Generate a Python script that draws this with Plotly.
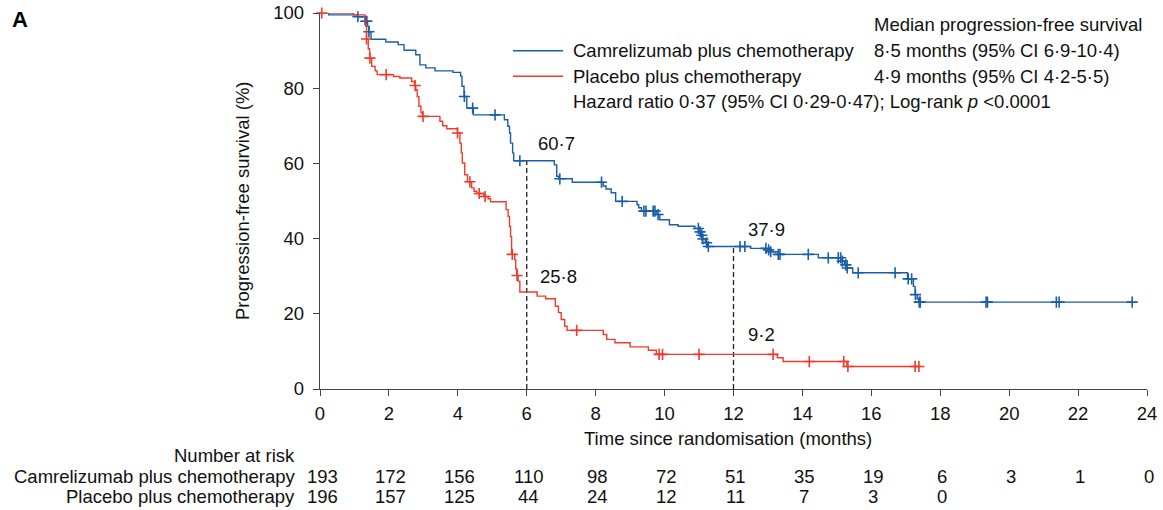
import numpy as np
import plotly.graph_objects as go

# ---------------- data ----------------
# Kaplan-Meier step points (time in months, survival in %) - Camrelizumab plus chemotherapy
cam_t = [0, 0.25, 1.1, 1.3, 1.38, 1.42, 1.48, 1.91, 2.27, 2.44, 2.78, 2.9, 3.07, 3.34, 3.86,
         4.08, 4.12, 4.18, 4.26, 4.45, 5.35, 5.45, 5.5, 5.53, 5.59, 5.62,
         6.8, 6.87, 6.93, 7.32, 8.22, 8.3, 8.45, 8.58, 9.2, 9.25, 9.33, 9.76, 9.86,
         10.14, 10.39, 10.88, 11.0, 11.05, 11.1, 11.18, 11.25, 12.5, 12.95, 13.05, 13.3,
         14.46, 15.15, 15.22, 15.3, 15.46, 17.05, 17.22, 17.27, 17.33, 17.38]
cam_s = [100, 99.5, 99.0, 97.8, 96.5, 95.0, 93.0, 92.3, 91.6, 90.1, 88.9, 86.2, 85.4, 84.6, 84.2,
         83.2, 80.5, 77.8, 74.7, 72.9, 71.6, 69.9, 68.1, 65.4, 62.8, 60.7,
         59.6, 56.6, 55.9, 55.0, 54.0, 53.2, 52.2, 49.9, 49.0, 48.2, 47.3, 46.4, 45.0,
         43.7, 43.3, 42.7, 41.8, 40.9, 39.9, 38.9, 37.9, 37.4, 37.0, 36.5, 35.8,
         34.9, 34.0, 33.0, 32.2, 30.9, 29.3, 27.3, 25.1, 24.0, 23.1]
cam_end = 23.57
cam_cens = [1.1, 1.33, 1.36, 1.42, 4.19, 4.43, 5.08, 5.8, 6.96, 8.17, 8.77, 9.4, 9.46, 9.67,
            9.72, 9.81, 10.98, 11.03, 11.08, 11.11, 11.22, 11.27, 12.19, 12.33, 12.94, 13.02,
            13.08, 13.3, 13.35, 14.17, 14.75, 15.04, 15.11, 15.16, 15.26, 15.3, 15.62, 16.69,
            17.07, 17.17, 17.28, 17.39, 17.42, 19.33, 19.37, 21.37, 21.45, 23.57]

# Placebo plus chemotherapy
pla_t = [0, 0.97, 1.3, 1.35, 1.4, 1.44, 1.5, 1.6, 1.66, 2.13, 2.32, 2.66, 2.74, 2.78, 2.82,
         2.87, 2.93, 2.97, 3.48, 3.56, 3.68, 3.99, 4.06, 4.1, 4.13, 4.2, 4.28, 4.4, 4.47,
         4.55, 4.75, 4.88, 4.95, 5.4, 5.46, 5.5, 5.53, 5.56, 5.65, 5.68, 5.71, 5.75, 5.8,
         6.3, 6.55, 6.83, 6.92, 7.0, 7.1, 7.17, 8.22, 8.32, 8.56, 9.0, 9.53, 9.76,
         13.27, 13.44, 15.29]
pla_s = [100, 99.5, 97.0, 93.1, 90.5, 88.0, 85.8, 84.6, 83.6, 83.1, 82.7, 81.8, 80.7, 79.6, 77.8,
         75.2, 73.5, 72.5, 71.2, 70.0, 69.2, 68.1, 65.4, 62.8, 60.1, 57.0, 55.1, 53.5, 52.6,
         52.0, 51.2, 50.6, 49.8, 47.7, 45.9, 43.2, 40.6, 35.8, 34.4, 32.0, 30.2, 28.7, 25.8,
         24.7, 24.0, 22.0, 20.3, 18.5, 16.7, 15.6, 14.5, 13.2, 12.3, 11.2, 10.3, 9.2,
         8.3, 7.3, 6.0]
pla_end = 17.4
pla_cens = [0.05, 1.35, 1.45, 1.92, 2.76, 2.99, 3.99, 4.35, 4.62, 4.79, 5.58, 5.72, 7.45,
            9.84, 9.94, 11.0, 13.15, 14.2, 15.2, 15.32, 17.27, 17.38]

landmark_t = [6, 12]
cam_landmark = [60.7, 37.9]
pla_landmark = [25.8, 9.2]
landmark_labels_cam = ["60·7", "37·9"]
landmark_labels_pla = ["25·8", "9·2"]

risk_t = [0, 2, 4, 6, 8, 10, 12, 14, 16, 18, 20, 22, 24]
risk_cam = [193, 172, 156, 110, 98, 72, 51, 35, 19, 6, 3, 1, 0]
risk_pla = [196, 157, 125, 44, 24, 12, 11, 7, 3, 0]

arm_names = ["Camrelizumab plus chemotherapy", "Placebo plus chemotherapy"]
median_texts = ["8·5 months (95% CI 6·9-10·4)", "4·9 months (95% CI 4·2-5·5)"]
hr_text = "Hazard ratio 0·37 (95% CI 0·29-0·47); Log-rank <i>p</i> <0.0001"

BLUE = "#1a5ea9"
RED = "#ef3b2c"
FONT = "Liberation Sans, Arial, sans-serif"
FS = 18.5
TXT = "#111111"


def step_value(times, surv, t):
    idx = np.searchsorted(np.asarray(times), np.asarray(t), side="right") - 1
    return np.asarray(surv)[idx]


fig = go.Figure()

# landmark dashed lines
for lt in landmark_t:
    top = float(step_value(cam_t, cam_s, lt))
    fig.add_trace(go.Scatter(x=[lt, lt], y=[0, top], mode="lines",
                             line=dict(color="#222222", width=1.3, dash="5px,3px"),
                             showlegend=False, hoverinfo="skip"))

for (t, s, end, cens, col) in [(cam_t, cam_s, cam_end, cam_cens, BLUE),
                                (pla_t, pla_s, pla_end, pla_cens, RED)]:
    xs = list(t) + [end]
    ys = list(s) + [s[-1]]
    fig.add_trace(go.Scatter(x=xs, y=ys, mode="lines", line=dict(color=col, width=1.4, shape="hv"),
                             showlegend=False, hoverinfo="skip"))
    fig.add_trace(go.Scatter(x=cens, y=step_value(t, s, cens), mode="markers",
                             marker=dict(symbol="cross-thin", size=8, color=col,
                                         line=dict(color=col, width=1.6)),
                             cliponaxis=False, showlegend=False, hoverinfo="skip"))

L, R, T, B = 320, 16, 13, 121
W, H = 1163, 510
PW = W - L - R
PH = H - T - B


def px_x(px):
    return (px - L) / PW


def px_y(py):
    return (H - B - py) / PH


ann = []
# landmark labels
for lt, v, lab in zip(landmark_t, cam_landmark, landmark_labels_cam):
    ann.append(dict(x=lt, y=v, xref="x", yref="y", text=lab, showarrow=False,
                    xanchor="left", yanchor="middle", xshift=9 if lt == 6 else 12, yshift=17))
for lt, v, lab in zip(landmark_t, pla_landmark, landmark_labels_pla):
    ann.append(dict(x=lt, y=v, xref="x", yref="y", text=lab, showarrow=False,
                    xanchor="left", yanchor="middle", xshift=11 if lt == 6 else 12, yshift=15 if lt == 6 else 20))

# legend block
ann.append(dict(x=px_x(872), y=px_y(24), xref="paper", yref="paper", text="Median progression-free survival",
                showarrow=False, xanchor="left", yanchor="middle"))
for i, (nm, md) in enumerate(zip(arm_names, median_texts)):
    yy = [50.7, 76.3][i]
    ann.append(dict(x=px_x(571), y=px_y(yy), xref="paper", yref="paper", text=nm,
                    showarrow=False, xanchor="left", yanchor="middle"))
    ann.append(dict(x=px_x(872), y=px_y(yy), xref="paper", yref="paper", text=md,
                    showarrow=False, xanchor="left", yanchor="middle"))
ann.append(dict(x=px_x(571), y=px_y(101), xref="paper", yref="paper", text=hr_text,
                showarrow=False, xanchor="left", yanchor="middle"))

# axis titles
ann.append(dict(x=px_x(242), y=0.5, xref="paper", yref="paper", text="Progression-free survival (%)",
                textangle=-90, showarrow=False, xanchor="center", yanchor="middle"))
ann.append(dict(x=px_x(728), y=px_y(439), xref="paper", yref="paper", text="Time since randomisation (months)",
                showarrow=False, xanchor="center", yanchor="middle"))
ann.append(dict(x=px_x(10), y=px_y(19), xref="paper", yref="paper", text="<b>A</b>",
                showarrow=False, xanchor="left", yanchor="middle", font=dict(size=22, color="#000")))

# number at risk
ann.append(dict(x=px_x(297), y=px_y(456), xref="paper", yref="paper", text="Number at risk",
                showarrow=False, xanchor="right", yanchor="middle"))
for nm, yy, vals in [(arm_names[0], 476, risk_cam), (arm_names[1], 497, risk_pla)]:
    ann.append(dict(x=px_x(297), y=px_y(yy), xref="paper", yref="paper", text=nm,
                    showarrow=False, xanchor="right", yanchor="middle"))
    for tt, v in zip(risk_t, vals):
        ann.append(dict(x=tt, y=px_y(yy), xref="x", yref="paper", text=str(v), showarrow=False,
                        xanchor="center", yanchor="middle", xshift=2))

shapes = []
for i, col in enumerate([BLUE, RED]):
    yy = [50.7, 76.3][i]
    shapes.append(dict(type="line", xref="paper", yref="paper", x0=px_x(513), x1=px_x(563),
                       y0=px_y(yy), y1=px_y(yy), line=dict(color=col, width=1.5)))

axis_common = dict(showline=True, linecolor="#444444", linewidth=1.4, ticks="outside", ticklen=6,
                   tickwidth=1.4, tickcolor="#444444", showgrid=False, zeroline=False,
                   automargin=False,
                   tickfont=dict(family=FONT, size=FS, color=TXT))

fig.update_layout(
    template="none",
    width=W, height=H,
    margin=dict(l=L, r=R, t=T, b=B, autoexpand=False),
    paper_bgcolor="white", plot_bgcolor="white",
    font=dict(family=FONT, size=FS, color=TXT),
    xaxis=dict(range=[0, 24], tickvals=risk_t, ticktext=[str(v) for v in risk_t],
               ticklabelstandoff=2, **axis_common),
    yaxis=dict(range=[0, 100], tickvals=[0, 20, 40, 60, 80, 100],
               ticklabelstandoff=5, **axis_common),
    annotations=ann,
    shapes=shapes,
    showlegend=False,
)

fig.write_html("out.html")
